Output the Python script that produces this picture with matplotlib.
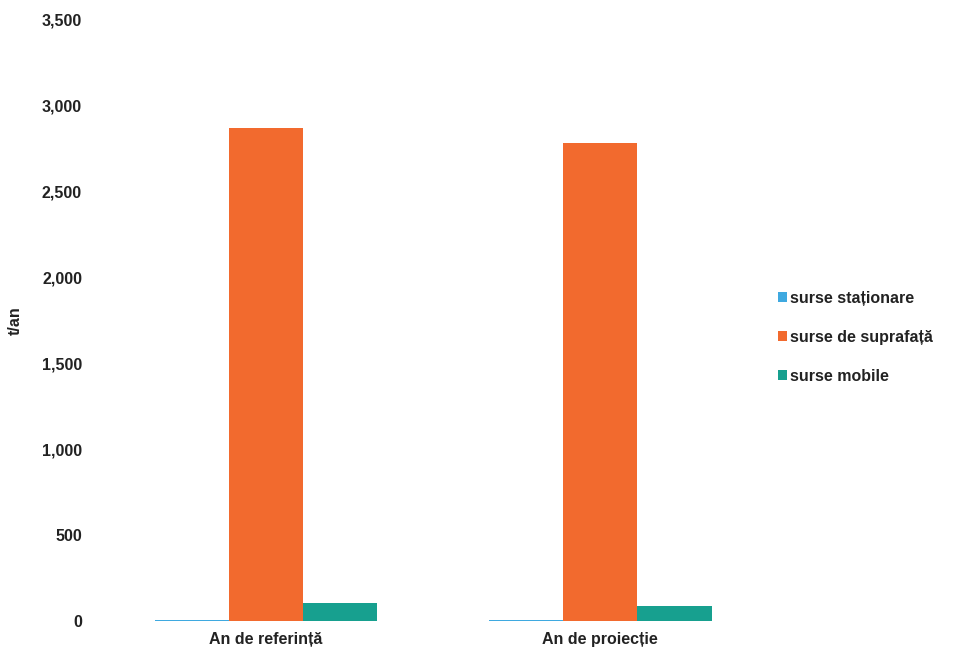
import matplotlib
matplotlib.use('Agg')
import numpy as np
import matplotlib.pyplot as plt

plt.rcParams['font.family'] = ['Liberation Sans', 'DejaVu Sans']

# data
categories = ['An de referință', 'An de proiecție']
series = ['surse staționare', 'surse de suprafață', 'surse mobile']
stationare = [8, 6]
suprafata = [2870, 2785]
mobile = [105, 90]
colours = ['#3FA9E0', '#F26A2E', '#17A08F']

fig = plt.figure(figsize=(9.58, 6.61), dpi=100)
ax = fig.add_axes([0.103, 0.0605, 0.698, 0.9095])

x = np.arange(len(categories))
w = 0.222
for i, (vals, c, lab) in enumerate(zip([stationare, suprafata, mobile], colours, series)):
    ax.bar(x + (i - 1) * w, vals, width=w, color=c, label=lab)

fs = 11.5
ax.set_xlim(-0.5, 1.5)
ax.set_ylim(0, 3500)
ax.set_yticks(np.arange(0, 3501, 500))
ax.set_yticklabels([f'{v:,}' for v in range(0, 3501, 500)])
ax.set_xticks(x)
ax.set_xticklabels(categories)
for s in ax.spines.values():
    s.set_visible(False)
ax.tick_params(length=0, labelsize=fs, colors='#222222', pad=12)
ax.tick_params(axis='x', pad=8)
for t in ax.get_xticklabels() + ax.get_yticklabels():
    t.set_fontweight('bold')
ax.set_ylabel('t/an', fontsize=fs, fontweight='bold', color='#222222', labelpad=14)

leg = ax.legend(loc='center left', bbox_to_anchor=(0.995, 0.472), frameon=False,
                handlelength=0.55, handleheight=0.55, handletextpad=0.15,
                labelspacing=1.5, prop={'size': fs, 'weight': 'bold'})
for t in leg.get_texts():
    t.set_color('#222222')

plt.savefig('out.png', dpi=100)
